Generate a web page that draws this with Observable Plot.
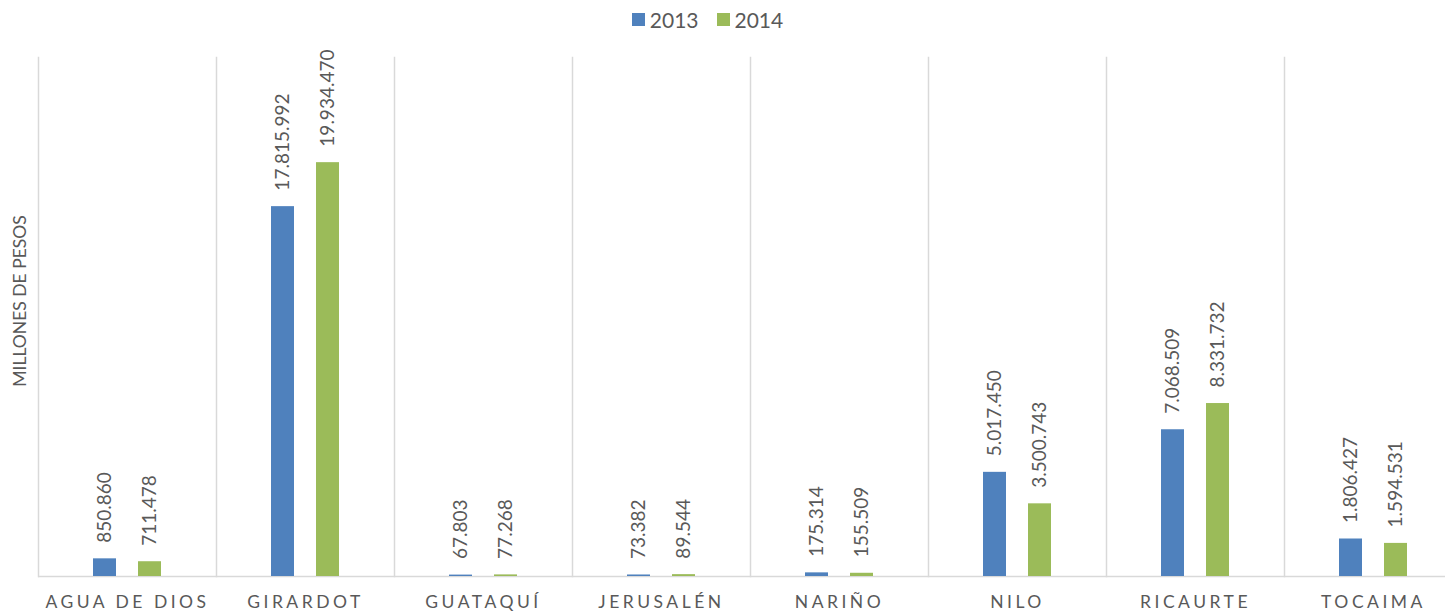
<!DOCTYPE html>
<html>
<head>
<meta charset="utf-8">
<script src="https://cdn.jsdelivr.net/npm/d3@7"></script>
<script src="https://cdn.jsdelivr.net/npm/@observablehq/plot@0.6"></script>
<style>
  body { margin: 0; background: #fff; font-family: Lato, "Open Sans", sans-serif; }
  #legend { height: 38px; display: flex; justify-content: center; align-items: center; gap: 18px; padding-right: 30px; box-sizing: border-box; color: #595959; font-size: 21px; }
  .item { display: flex; align-items: center; gap: 5px; }
  .sw { width: 13px; height: 13px; display: inline-block; }
</style>
</head>
<body>
<div id="legend"></div>
<div id="chart"></div>
<script>
const categories = ["AGUA DE DIOS", "GIRARDOT", "GUATAQUÍ", "JERUSALÉN", "NARIÑO", "NILO", "RICAURTE", "TOCAIMA"];
const years = ["2013", "2014"];
const values2013 = [850860, 17815992, 67803, 73382, 175314, 5017450, 7068509, 1806427];
const values2014 = [711478, 19934470, 77268, 89544, 155509, 3500743, 8331732, 1594531];
const colors = ["#4F81BD", "#9BBB59"];
const yLabel = "MILLONES DE PESOS";

const series = [values2013, values2014];
const data = [];
categories.forEach((c, i) => {
  years.forEach((yr, j) => data.push({category: c, year: yr, value: series[j][i]}));
});

const fmt = d3.formatLocale({decimal: ",", thousands: ".", grouping: [3], currency: ["", ""]}).format(",d");

// legend
const legend = d3.select("#legend");
years.forEach((yr, j) => {
  const it = legend.append("div").attr("class", "item");
  it.append("span").attr("class", "sw").style("background", colors[j]);
  it.append("span").text(yr);
});

const font = "Lato, 'Open Sans', sans-serif";
const chart = Plot.plot({
  width: 1445,
  height: 575,
  marginLeft: 38,
  marginRight: -17,
  marginTop: 19,
  marginBottom: 37,
  style: {fontFamily: font, background: "#fff"},
  fx: {domain: categories, padding: 0},
  x: {domain: years, paddingInner: 0.478, paddingOuter: 1.174, axis: null},
  y: {domain: [0, 25000000], axis: null},
  color: {domain: years, range: colors},
  marks: [
    Plot.frame({anchor: "left", stroke: "#D9D9D9", strokeWidth: 1.5}),
    Plot.ruleY([0], {stroke: "#D9D9D9", strokeWidth: 1.5}),
    Plot.barY(data, {fx: "category", x: "year", y: "value", fill: "year"}),
    Plot.text(data, {
      fx: "category", x: "year", y: "value", text: d => fmt(d.value),
      rotate: -90, textAnchor: "start", dy: -16,
      fill: "#595959", fontSize: 19, fontFamily: font
    }),
    Plot.axisFx({anchor: "bottom", tickSize: 0, tickPadding: 19, label: null, fontSize: 17.5, fill: "#595959", fontFamily: font}),
    Plot.text([yLabel], {
      fx: [categories[0]], frameAnchor: "left", rotate: -90, textAnchor: "middle",
      dx: -18, dy: -16, fill: "#595959", fontSize: 17.5, fontFamily: font
    })
  ]
});
document.getElementById("chart").appendChild(chart);
d3.select(chart).selectAll('g[aria-label="fx-axis tick label"] text').style("letter-spacing", "3.5px");
</script>
</body>
</html>
